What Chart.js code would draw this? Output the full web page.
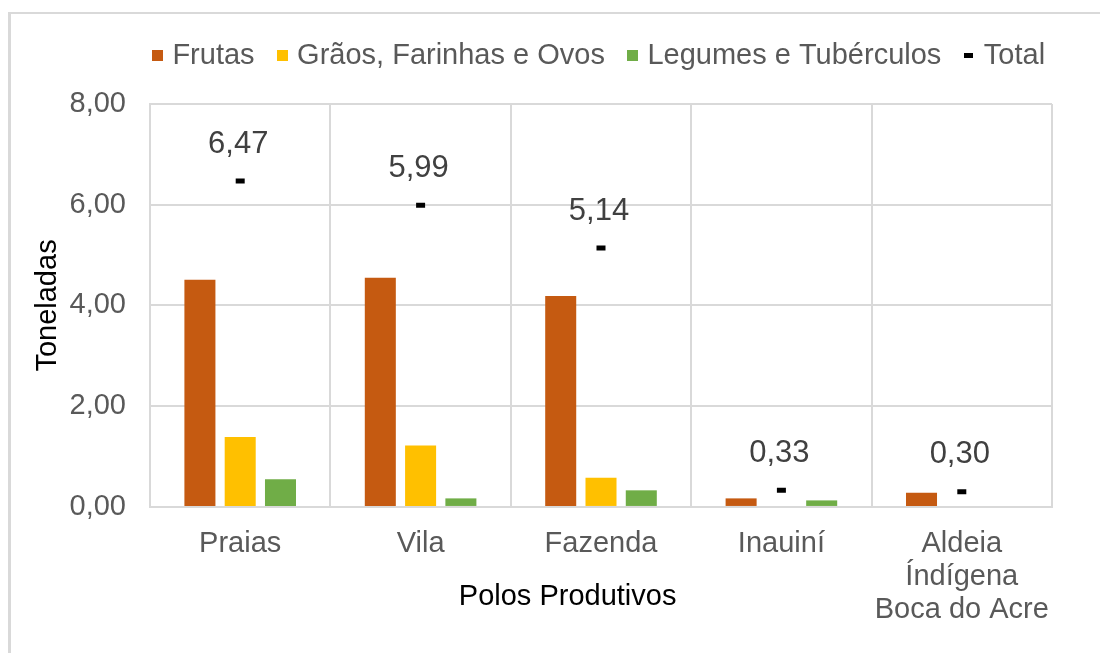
<!DOCTYPE html>
<html>
<head>
<meta charset="utf-8">
<script src="https://cdn.jsdelivr.net/npm/chart.js@4"></script>
<style>
  html, body { margin: 0; padding: 0; background: #fff; }
  #wrap { position: relative; width: 1100px; height: 653px; overflow: hidden; }
  #moldura { position: absolute; left: 8px; top: 12px; width: 1200px; height: 800px;
             border-left: 3px solid #D9D9D9; border-top: 2px solid #D9D9D9; }
  #grafico { position: absolute; left: 0; top: 0; }
</style>
</head>
<body>
<div id="wrap">
  <div id="moldura"></div>
  <canvas id="grafico" width="1100" height="653"></canvas>
</div>
<script>
// Dados (toneladas por polo produtivo)
const polos = ['Praias', 'Vila', 'Fazenda', 'Inauiní', ['Aldeia', 'Índígena', 'Boca do Acre']];
const frutas = [4.51, 4.55, 4.19, 0.17, 0.28];
const graos = [1.39, 1.22, 0.58, 0, 0];
const legumes = [0.55, 0.17, 0.33, 0.13, 0];
const total = [6.47, 5.99, 5.14, 0.33, 0.30];
const eixoY = { min: 0, max: 8, passo: 2 };

const corFrutas = '#C55A11';
const corGraos = '#FFC000';
const corLegumes = '#70AD47';

Chart.defaults.font.family = "'Liberation Sans', Arial, sans-serif";

function virgula(v) {
  return Number(v).toFixed(2).replace('.', ',');
}

// simbolos da legenda
function marcador(cor, w, h) {
  const c = document.createElement('canvas');
  c.width = w; c.height = h;
  const g = c.getContext('2d');
  g.fillStyle = cor;
  g.fillRect(0, 0, w, h);
  return c;
}
const simbolos = [
  marcador(corFrutas, 11, 11),
  marcador(corGraos, 11, 11),
  marcador(corLegumes, 11, 11),
  marcador('#000', 9, 5)
];

const rotulosTotal = {
  id: 'rotulosTotal',
  afterDatasetsDraw(chart) {
    const ctx = chart.ctx;
    const meta = chart.getDatasetMeta(3);
    ctx.save();
    ctx.font = "31px 'Liberation Sans', Arial";
    ctx.fillStyle = '#404040';
    ctx.textAlign = 'center';
    ctx.textBaseline = 'middle';
    meta.data.forEach((pt, i) => {
      ctx.fillText(virgula(total[i]), pt.x - 2, pt.y - 37);
    });
    ctx.restore();
  }
};

const tituloX = {
  id: 'tituloX',
  afterDraw(chart) {
    const a = chart.chartArea;
    const ctx = chart.ctx;
    ctx.save();
    ctx.font = "29px 'Liberation Sans', Arial";
    ctx.fillStyle = '#000';
    ctx.textAlign = 'center';
    ctx.textBaseline = 'middle';
    ctx.fillText('Polos Produtivos', a.left + a.width * 0.463, 597);
    ctx.restore();
  }
};

// legenda centrada sobre a area do grafico e um pouco mais alta
const ajusteLegenda = {
  id: 'ajusteLegenda',
  beforeInit(chart) {
    const fitOrig = chart.legend.fit;
    chart.legend.fit = function () {
      fitOrig.bind(chart.legend)();
      this.height += 24;
    };
  },
  afterLayout(chart) {
    const a = chart.chartArea;
    const lg = chart.legend;
    const d = (a.left + a.right) / 2 - (lg.left + lg.right) / 2;
    lg.left += d;
    lg.right += d;
  }
};

const ctx = document.getElementById('grafico').getContext('2d');
const grafico = new Chart(ctx, {
  type: 'bar',
  data: {
    labels: polos,
    datasets: [
      { label: 'Frutas', data: frutas, backgroundColor: corFrutas, order: 1 },
      { label: 'Grãos, Farinhas e Ovos', data: graos, backgroundColor: corGraos, order: 1 },
      { label: 'Legumes e Tubérculos', data: legumes, backgroundColor: corLegumes, order: 1 },
      {
        type: 'line', label: 'Total', data: total, showLine: false,
        pointStyle: 'line', pointRadius: 4.5, pointBorderWidth: 5,
        pointBorderColor: '#000', backgroundColor: '#000', borderColor: '#000', order: 0
      }
    ]
  },
  options: {
    responsive: false,
    animation: false,
    categoryPercentage: 0.67,
    barPercentage: 0.77,
    layout: { padding: { top: 14, right: 48, bottom: 6, left: 0 } },
    plugins: {
      tooltip: { enabled: false },
      legend: {
        position: 'top',
        labels: {
          usePointStyle: true,
          boxWidth: 1,
          boxHeight: 11,
          padding: 27,
          color: '#595959',
          font: { size: 29 },
          sort: (a, b) => a.datasetIndex - b.datasetIndex,
          generateLabels(chart) {
            const itens = Chart.defaults.plugins.legend.labels.generateLabels(chart);
            itens.forEach((it) => { it.pointStyle = simbolos[it.datasetIndex]; });
            return itens;
          }
        }
      }
    },
    scales: {
      x: {
        grid: { color: '#D9D9D9', lineWidth: 2, drawTicks: false },
        border: { color: '#D9D9D9', width: 2 },
        ticks: {
          color: '#595959', padding: 20, maxRotation: 0, autoSkip: false,
          font: { size: 29, lineHeight: 1.15 }
        }
      },
      y: {
        min: eixoY.min, max: eixoY.max,
        afterFit(scale) { scale.width = 150; },
        grid: { color: '#D9D9D9', lineWidth: 2, drawTicks: false },
        border: { color: '#D9D9D9', width: 2 },
        ticks: {
          stepSize: eixoY.passo, color: '#595959', padding: 24,
          font: { size: 29 },
          callback: (v) => virgula(v)
        },
        title: {
          display: true, text: 'Toneladas', color: '#000',
          font: { size: 29 }, padding: { top: 31, bottom: 0 }
        }
      }
    }
  },
  plugins: [rotulosTotal, tituloX, ajusteLegenda]
});
</script>
</body>
</html>
